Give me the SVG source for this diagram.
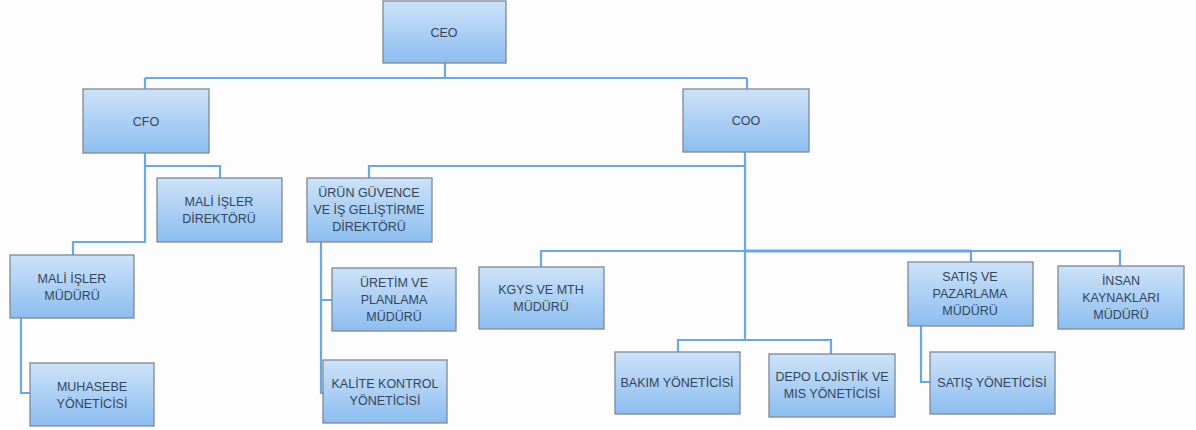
<svg xmlns="http://www.w3.org/2000/svg" width="1196" height="430" viewBox="0 0 1196 430">
<defs>
<linearGradient id="g" x1="0" y1="0" x2="0" y2="1">
<stop offset="0" stop-color="#cde2f8"/>
<stop offset="1" stop-color="#8cbdf0"/>
</linearGradient>
<style>
.box{fill:url(#g);stroke:#7f8995;stroke-width:1.3}
.t{font-family:"Liberation Sans",Arial,sans-serif;font-size:12.5px;fill:#33455a;text-anchor:middle}
.c{fill:none;stroke:#6aa7e6;stroke-width:2.2}
</style>
</defs>
<rect width="1196" height="430" fill="#fdfdfd"/>
<g id="connectors" class="c">
<path d="M445,63 V78 M145,78 H747 M145,78 V89 M747,78 V89"/>
<path d="M145,153 V242 H73 V255 M145,166 H220 V178"/>
<path d="M21,318 V393 H30"/>
<path d="M745,152 V340 M369,178 V166 H745 M541,267 V251 H1120 V266 M971,251 V262 M678,352 V340 H831 V354"/>
<path d="M745,251 H971" stroke-width="3.2"/>
<path d="M321,242 V393 H323 M321,300 H332"/>
<path d="M921,326 V382 H930"/>
</g>
<g id="ceo"><rect class="box" x="383" y="1" width="123" height="62"/><text class="t" x="444" y="37">CEO</text></g>
<g id="cfo"><rect class="box" x="83" y="89" width="126" height="64"/><text class="t" x="146" y="126">CFO</text></g>
<g id="coo"><rect class="box" x="683" y="89" width="126" height="63"/><text class="t" x="746" y="125">COO</text></g>
<g id="mali-isler-direktoru"><rect class="box" x="157" y="178" width="125" height="64"/><text class="t" x="219" y="206">MALİ İŞLER</text><text class="t" x="219" y="223">DİREKTÖRÜ</text></g>
<g id="urun-guvence"><rect class="box" x="307" y="178" width="125" height="64"/><text class="t" x="369" y="197">ÜRÜN GÜVENCE</text><text class="t" x="369" y="214">VE İŞ GELİŞTİRME</text><text class="t" x="369" y="231">DİREKTÖRÜ</text></g>
<g id="mali-isler-muduru"><rect class="box" x="10" y="255" width="124" height="63"/><text class="t" x="72" y="283">MALİ İŞLER</text><text class="t" x="72" y="300">MÜDÜRÜ</text></g>
<g id="muhasebe"><rect class="box" x="30" y="363" width="124" height="63"/><text class="t" x="92" y="391">MUHASEBE</text><text class="t" x="92" y="408">YÖNETİCİSİ</text></g>
<g id="uretim"><rect class="box" x="332" y="268" width="124" height="63"/><text class="t" x="394" y="287">ÜRETİM VE</text><text class="t" x="394" y="304">PLANLAMA</text><text class="t" x="394" y="321">MÜDÜRÜ</text></g>
<g id="kalite"><rect class="box" x="323" y="360" width="124" height="63"/><text class="t" x="385" y="388">KALİTE KONTROL</text><text class="t" x="385" y="405">YÖNETİCİSİ</text></g>
<g id="kgys"><rect class="box" x="479" y="267" width="125" height="62"/><text class="t" x="541" y="294">KGYS VE MTH</text><text class="t" x="541" y="311">MÜDÜRÜ</text></g>
<g id="bakim"><rect class="box" x="615" y="352" width="125" height="62"/><text class="t" x="677" y="387">BAKIM YÖNETİCİSİ</text></g>
<g id="depo"><rect class="box" x="769" y="354" width="126" height="63"/><text class="t" x="832" y="381">DEPO LOJİSTİK VE</text><text class="t" x="832" y="398">MIS YÖNETİCİSİ</text></g>
<g id="satis-pazarlama"><rect class="box" x="908" y="262" width="125" height="64"/><text class="t" x="970" y="281">SATIŞ VE</text><text class="t" x="970" y="298">PAZARLAMA</text><text class="t" x="970" y="315">MÜDÜRÜ</text></g>
<g id="insan-kaynaklari"><rect class="box" x="1058" y="266" width="126" height="63"/><text class="t" x="1121" y="285">İNSAN</text><text class="t" x="1121" y="302">KAYNAKLARI</text><text class="t" x="1121" y="319">MÜDÜRÜ</text></g>
<g id="satis-yoneticisi"><rect class="box" x="930" y="352" width="125" height="62"/><text class="t" x="992" y="387">SATIŞ YÖNETİCİSİ</text></g>
</svg>
